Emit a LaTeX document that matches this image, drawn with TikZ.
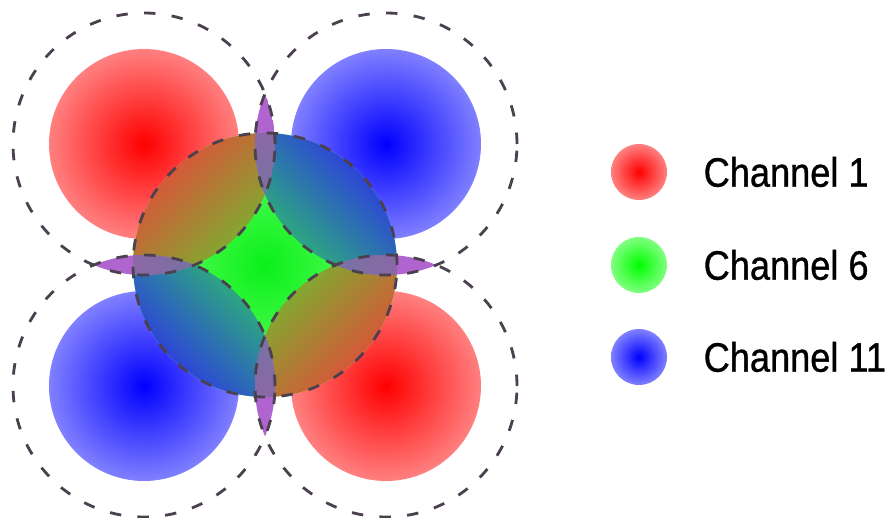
\documentclass[tikz,border=0pt]{standalone}
\usepackage{fontspec}
\setmainfont{Liberation Sans}
\newfontfamily\legendfont[FakeStretch=0.88, FakeBold=0.8]{Liberation Sans}
\usetikzlibrary{positioning}
\definecolor{chred}{RGB}{255, 0, 0}
\definecolor{chredrim}{RGB}{255, 128, 128}
\definecolor{chblue}{RGB}{0, 0, 255}
\definecolor{chbluerim}{RGB}{128, 128, 255}
\definecolor{chgreen}{RGB}{0, 255, 0}
\definecolor{chgreenrim}{RGB}{128, 255, 128}
\definecolor{midgreen}{RGB}{10, 240, 25}
\definecolor{midgreenrim}{RGB}{110, 255, 110}
\definecolor{redmixin}{RGB}{130, 168, 48}
\definecolor{redmixout}{RGB}{214, 88, 56}
\definecolor{bluemixin}{RGB}{45, 168, 128}
\definecolor{bluemixout}{RGB}{45, 68, 216}
\definecolor{lensviolet}{RGB}{176, 100, 208}
\definecolor{lensin}{RGB}{100, 125, 160}
\definecolor{lensout}{RGB}{138, 104, 165}
\definecolor{ringgray}{RGB}{75, 65, 78}

\begin{document}
\begin{tikzpicture}[
  ring/.style={draw=ringgray, line width=1.6pt, dash pattern=on 6.5pt off 9.3pt},
  key/.style={circle, minimum size=1.12cm, inner sep=0pt, shade},
  keytext/.style={inner sep=0pt, font=\legendfont\fontsize{23.4}{28}\selectfont}
]
  \useasboundingbox (-5.3,-5.06) rectangle (12.5,5.3);

  % Access points
  \coordinate (tl) at (-2.42, 2.42);
  \coordinate (tr) at (2.42, 2.42);
  \coordinate (bl) at (-2.42, -2.42);
  \coordinate (br) at (2.42, -2.42);
  \coordinate (mid) at (0, 0);

  % Coverage discs
  \shade[inner color=chred, outer color=chredrim] (tl) circle (1.9);
  \shade[inner color=chblue, outer color=chbluerim] (tr) circle (1.9);
  \shade[inner color=chblue, outer color=chbluerim] (bl) circle (1.9);
  \shade[inner color=chred, outer color=chredrim] (br) circle (1.9);

  % Channel 6 in the middle
  \shade[inner color=midgreen, outer color=midgreenrim] (mid) circle (2.64);

  % Overlap with the neighbours (gradient along the diagonal)
  \begin{scope}
    \clip (mid) circle (2.64);
    \clip (tl) circle (2.62);
    \begin{scope}[transform canvas={rotate=135}]
      \shade[left color=redmixin, right color=redmixout] (0.78,-2.1) rectangle (2.66,2.1);
    \end{scope}
  \end{scope}
  \begin{scope}
    \clip (mid) circle (2.64);
    \clip (br) circle (2.62);
    \begin{scope}[transform canvas={rotate=-45}]
      \shade[left color=redmixin, right color=redmixout] (0.78,-2.1) rectangle (2.66,2.1);
    \end{scope}
  \end{scope}
  \begin{scope}
    \clip (mid) circle (2.64);
    \clip (tr) circle (2.62);
    \begin{scope}[transform canvas={rotate=45}]
      \shade[left color=bluemixin, right color=bluemixout] (0.78,-2.1) rectangle (2.66,2.1);
    \end{scope}
  \end{scope}
  \begin{scope}
    \clip (mid) circle (2.64);
    \clip (bl) circle (2.62);
    \begin{scope}[transform canvas={rotate=-135}]
      \shade[left color=bluemixin, right color=bluemixout] (0.78,-2.1) rectangle (2.66,2.1);
    \end{scope}
  \end{scope}

  % Lenses between channel 1 and channel 11
  \begin{scope}
    \clip (tl) circle (2.62);
    \clip (tr) circle (2.62);
    \fill[lensviolet] (tl) circle (2.62);
    \clip (mid) circle (2.64);
    \shade[inner color=lensin, outer color=lensout] (mid) circle (2.64);
  \end{scope}
  \begin{scope}
    \clip (tr) circle (2.62);
    \clip (br) circle (2.62);
    \fill[lensviolet] (tr) circle (2.62);
    \clip (mid) circle (2.64);
    \shade[inner color=lensin, outer color=lensout] (mid) circle (2.64);
  \end{scope}
  \begin{scope}
    \clip (br) circle (2.62);
    \clip (bl) circle (2.62);
    \fill[lensviolet] (br) circle (2.62);
    \clip (mid) circle (2.64);
    \shade[inner color=lensin, outer color=lensout] (mid) circle (2.64);
  \end{scope}
  \begin{scope}
    \clip (bl) circle (2.62);
    \clip (tl) circle (2.62);
    \fill[lensviolet] (bl) circle (2.62);
    \clip (mid) circle (2.64);
    \shade[inner color=lensin, outer color=lensout] (mid) circle (2.64);
  \end{scope}

  % Interference range
  \draw[ring] (tl) circle (2.62);
  \draw[ring] (tr) circle (2.62);
  \draw[ring] (bl) circle (2.62);
  \draw[ring] (br) circle (2.62);
  \draw[ring] (mid) circle (2.64);

  % Legend
  \node[key, inner color=chred, outer color=chredrim] (key1) at (7.48, 1.86) {};
  \node[keytext, right=0.72cm of key1] (name1) {Channel 1};
  \node[key, inner color=chgreen, outer color=chgreenrim] (key6) at (7.48, 0) {};
  \node[keytext, right=0.72cm of key6] (name6) {Channel 6};
  \node[key, inner color=chblue, outer color=chbluerim] (key11) at (7.48, -1.84) {};
  \node[keytext, right=0.72cm of key11] (name11) {Channel 11};
\end{tikzpicture}
\end{document}
